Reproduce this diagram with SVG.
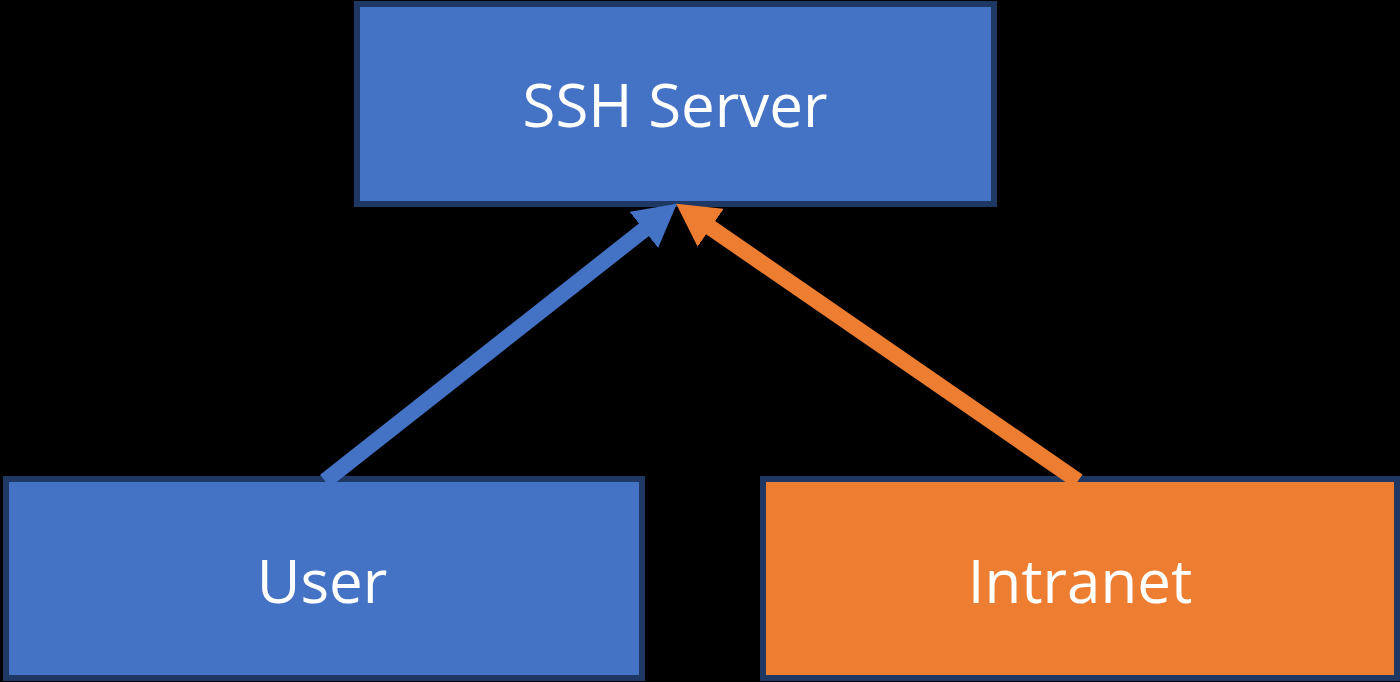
<svg xmlns="http://www.w3.org/2000/svg" width="1400" height="682" viewBox="0 0 1400 682">
  <style>
    .box { stroke: #1f3763; stroke-width: 6; }
    .blue { fill: #4472c4; }
    .orange { fill: #ed7d31; }
    .label { font-family: "Open Sans", "Noto Sans", "Liberation Sans", sans-serif; font-size: 60px; fill: #ffffff; text-anchor: middle; }
    .conn { stroke-width: 16; fill: none; }
  </style>
  <defs>
    <marker id="headBlue" viewBox="0 -23 42 46" refX="12" refY="0" markerWidth="42" markerHeight="46" markerUnits="userSpaceOnUse" orient="auto">
      <path d="M0,-23 L42,0 L0,23 z" fill="#4472c4"/>
    </marker>
    <marker id="headOrange" viewBox="0 -23 42 46" refX="12" refY="0" markerWidth="42" markerHeight="46" markerUnits="userSpaceOnUse" orient="auto">
      <path d="M0,-23 L42,0 L0,23 z" fill="#ed7d31"/>
    </marker>
  </defs>
  <rect x="0" y="0" width="1400" height="682" fill="#000000"/>
  <g id="ssh-server">
    <rect class="box blue" x="357" y="4" width="637" height="200"/>
    <text class="label" x="675" y="127">SSH Server</text>
  </g>
  <g id="user">
    <rect class="box blue" x="6" y="479" width="636" height="199"/>
    <text class="label" x="322" y="603">User</text>
  </g>
  <g id="intranet">
    <rect class="box orange" x="763" y="479" width="634" height="199"/>
    <text class="label" x="1080" y="603">Intranet</text>
  </g>
  <g id="connectors">
    <line class="conn" x1="325" y1="481" x2="653.3" y2="222.4" stroke="#4472c4" marker-end="url(#headBlue)"/>
    <line class="conn" x1="1078" y1="481" x2="700.8" y2="220.9" stroke="#ed7d31" marker-end="url(#headOrange)"/>
  </g>
</svg>
